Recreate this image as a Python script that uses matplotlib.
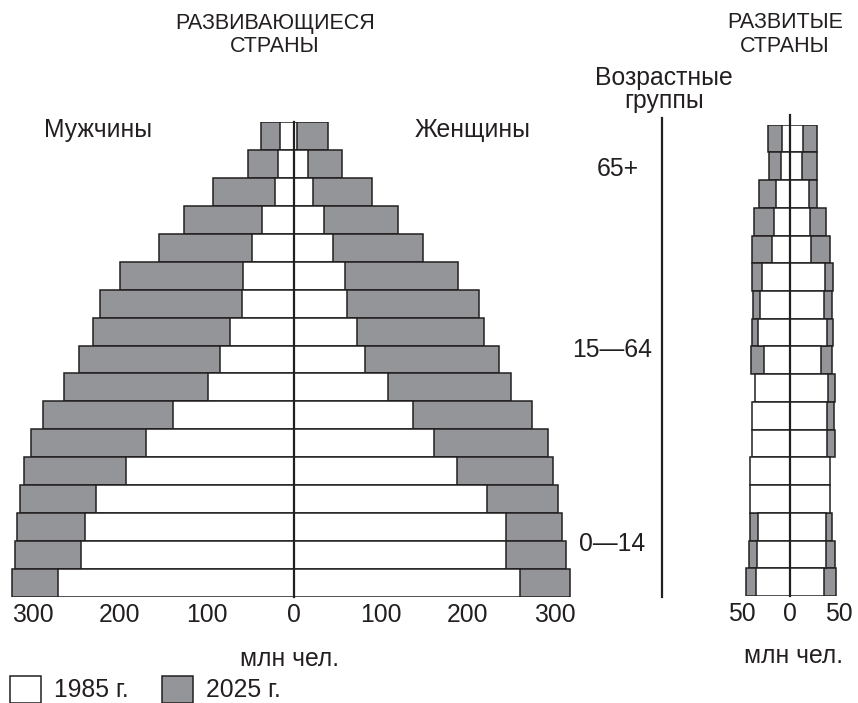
import matplotlib
matplotlib.use("Agg")
import matplotlib.pyplot as plt
from matplotlib.patches import Rectangle
import numpy as np

plt.rcParams['font.family'] = ['Liberation Sans', 'DejaVu Sans']

# Age groups from oldest (top) to youngest (bottom), 5-year steps
age_groups = ['80+', '75-79', '70-74', '65-69', '60-64', '55-59', '50-54', '45-49',
              '40-44', '35-39', '30-34', '25-29', '20-24', '15-19', '10-14', '5-9', '0-4']

# Developing countries, million people
dev_male_1985 = [15.5, 17.8, 21.3, 36.2, 47.7, 58, 59.2, 73, 84.5, 98.3,
                 138.5, 169.5, 192.5, 227, 239.7, 244, 270.7]
dev_male_2025 = [37.4, 52.3, 92.5, 125.9, 154.6, 199.4, 222.4, 230.5, 246.6, 263.8,
                 287.9, 301.7, 309.8, 314.4, 317.8, 320.1, 323.6]
dev_female_1985 = [4, 16.7, 22.4, 35, 45.4, 59.2, 61.5, 73, 82.2, 108.6,
                   137.4, 161.5, 188, 222.4, 244.3, 244.3, 260.3]
dev_female_2025 = [39.7, 55.7, 90.2, 120.1, 148.9, 189.1, 213.2, 219, 236.2, 250,
                   274.1, 292.5, 298.3, 304, 308.6, 313.2, 317.8]

# Developed countries, million people
ind_male_1985 = [8.8, 9.5, 14.4, 17, 18.5, 29, 31.4, 33.4, 27.2, 35.9,
                 39.6, 39.3, 41, 41.6, 33.4, 34.2, 35.2]
ind_male_2025 = [23.2, 21.8, 32.1, 37.5, 39.3, 39, 38.6, 39, 40.3, 34,
                 37, 37, 38, 39, 41.6, 42, 45.4]
ind_female_1985 = [12.7, 12, 18.9, 20.2, 20.9, 35.3, 34.9, 37.3, 31.8, 38.7,
                   37.3, 37.9, 40.7, 40.7, 36.3, 36.6, 34.3]
ind_female_2025 = [27.7, 27.1, 27.7, 36.3, 41, 43.5, 42.8, 43.5, 43.1, 46.2,
                   45.1, 45.5, 39, 39, 43.1, 45.8, 46.6]

dev_ticks = [-300, -200, -100, 0, 100, 200, 300]
ind_ticks = [-50, 0, 50]

W, H = 858, 703
INK = '#231f20'
GRAY = '#939598'
FS = 17.8      # body text and tick labels
FS_HEAD = 15.5  # upper-case headings

fig = plt.figure(figsize=(W / 100, H / 100), dpi=100)
fig.patch.set_facecolor('white')


def fx(px):
    return px / W


def fy(py):
    return 1 - py / H


def pyramid(ax, m85, m25, f85, f25, xlim, ticks):
    n = len(m85)
    y = np.arange(n)[::-1]
    kw = dict(height=1.0, edgecolor=INK, linewidth=1.1)
    ax.barh(y, -np.array(m25), color=GRAY, **kw)
    ax.barh(y, np.array(f25), color=GRAY, **kw)
    ax.barh(y, -np.array(m85), color='white', **kw)
    ax.barh(y, np.array(f85), color='white', **kw)
    ax.set_xlim(*xlim)
    ax.set_ylim(-0.5, n - 0.5)
    for s in ax.spines.values():
        s.set_visible(False)
    ax.set_yticks([])
    ax.set_xticks(ticks)
    ax.set_xticklabels([str(abs(t)) for t in ticks])
    ax.tick_params(axis='x', length=0, pad=4, labelsize=FS, labelcolor=INK)
    ax.set_facecolor('none')


# Developing countries: zero at x=293.5 px, 0.87 px per unit
xl = (-330, 330)
left_px = 293.5 - 330 * 0.87
ax1 = fig.add_axes([fx(left_px), fy(597), 660 * 0.87 / W, (597 - 122) / H])
pyramid(ax1, dev_male_1985, dev_male_2025, dev_female_1985, dev_female_2025, xl, dev_ticks)
ax1.plot([0, 0], [-0.5, 16.5], color=INK, lw=1.6, clip_on=False, zorder=5)

# Developed countries: zero at x=790.3 px, 0.975 px per unit
xr = (-55, 55)
left_px2 = 790.3 - 55 * 0.975
ax2 = fig.add_axes([fx(left_px2), fy(596), 110 * 0.975 / W, (596 - 124.7) / H])
pyramid(ax2, ind_male_1985, ind_male_2025, ind_female_1985, ind_female_2025, xr, ind_ticks)
ax2.plot([0, 0], [-0.5, 16.85], color=INK, lw=1.6, clip_on=False, zorder=5)

# Headings and labels
head = dict(color=INK, fontsize=FS_HEAD, ha='center', va='center')
txt = dict(color=INK, fontsize=FS, ha='center', va='center')
fig.text(fx(275), fy(23), 'РАЗВИВАЮЩИЕСЯ', **head)
fig.text(fx(275), fy(47), 'СТРАНЫ', **head)
fig.text(fx(785), fy(23), 'РАЗВИТЫЕ', **head)
fig.text(fx(785), fy(47), 'СТРАНЫ', **head)
fig.text(fx(664), fy(78), 'Возрастные', **txt)
fig.text(fx(664), fy(101), 'группы', **txt)
fig.text(fx(98), fy(130), 'Мужчины', **txt)
fig.text(fx(473), fy(130), 'Женщины', **txt)
fig.text(fx(618), fy(169), '65+', **txt)
fig.text(fx(612), fy(350), '15—64', **txt)
fig.text(fx(612), fy(544), '0—14', **txt)
fig.text(fx(289), fy(659), 'млн чел.', **txt)
fig.text(fx(794), fy(656), 'млн чел.', **txt)

# Age-group divider
fig.add_artist(plt.Line2D([fx(662), fx(662)], [fy(118), fy(597)], color=INK, lw=1.6))

# Year key
for x0, face, label in [(10, 'white', '1985 г.'), (162, GRAY, '2025 г.')]:
    fig.add_artist(Rectangle((fx(x0), fy(703)), 31 / W, 27 / H,
                             facecolor=face, edgecolor=INK, lw=1.1,
                             transform=fig.transFigure))
    fig.text(fx(x0 + 44), fy(690), label, color=INK, fontsize=FS, ha='left', va='center')

fig.savefig('out.png', dpi=100, facecolor='white')
